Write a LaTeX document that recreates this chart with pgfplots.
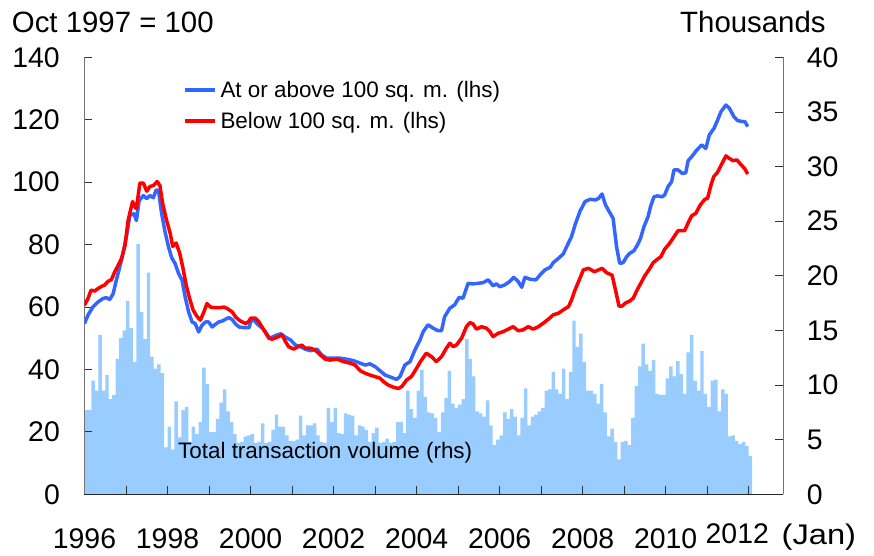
\documentclass[border=0pt]{standalone}
\usepackage{fontspec}
\setmainfont{Liberation Sans}
\usepackage{pgfplots}
\pgfplotsset{compat=1.18}
\definecolor{barblue}{RGB}{153,204,255}
\definecolor{lineblue}{RGB}{51,102,255}
\definecolor{linered}{RGB}{255,0,0}
\newcommand\bigf{\fontsize{29.5}{32}\selectfont}
\newcommand\xtickf{\fontsize{28.5}{30}\selectfont}
\newcommand\tickf{\fontsize{28.5}{30}\selectfont}
\newcommand\smallf{\fontsize{22.5}{25}\selectfont}
\pgfplotsset{
  base/.style={
    scale only axis, width=698.8bp, height=437bp,
    xmin=0, xmax=202, at={(0,0)}, anchor=south west,
    tick align=inside, major tick length=8bp,
    /pgf/number format/assume math mode=true,
    tick style={black!80, line width=0.8bp},
    axis line style={-, line width=1bp},
    x axis line style={black!85},
    y axis line style={black!55},
  }
}
\begin{document}
\begin{tikzpicture}[x=1bp,y=1bp]
\useasboundingbox (-84.5,-61.7) rectangle (789.5,494.3);
% ---------- bars (right axis, thousands) ----------
\begin{axis}[base, ymin=0, ymax=40, ytick={0,5,...,40},
  axis y line*=right, axis x line=none,
  yticklabel style={font=\tickf, inner sep=0pt, anchor=west, xshift=23.4bp}]
\addplot[ybar, bar width=1, bar shift=0pt, fill=barblue, draw=none] coordinates {
(0.5,7.7)(1.5,7.7)(2.5,10.4)(3.5,9.5)(4.5,14.6)(5.5,9.5)(6.5,10.9)(7.5,8.7)(8.5,9.1)(9.5,12.4)(10.5,14.3)(11.5,15.0)
(12.5,17.7)(13.5,15.2)(14.5,12.1)(15.5,22.9)(16.5,16.7)(17.5,14.2)(18.5,20.3)(19.5,12.6)(20.5,11.5)(21.5,11.9)(22.5,11.1)(23.5,4.3)
(24.5,6.2)(25.5,4.1)(26.5,8.5)(27.5,5.2)(28.5,7.7)(29.5,8.0)(30.5,4.8)(31.5,6.2)(32.5,5.5)(33.5,6.6)(34.5,11.6)(35.5,10.1)
(36.5,5.7)(37.5,5.7)(38.5,6.9)(39.5,8.4)(40.5,9.6)(41.5,7.6)(42.5,6.6)(43.5,5.5)(44.5,4.7)(45.5,4.8)(46.5,5.3)(47.5,5.4)
(48.5,5.5)(49.5,4.7)(50.5,4.8)(51.5,6.5)(52.5,4.7)(53.5,4.8)(54.5,5.9)(55.5,7.3)(56.5,6.2)(57.5,6.2)(58.5,5.4)(59.5,4.9)
(60.5,4.9)(61.5,5.0)(62.5,7.2)(63.5,5.4)(64.5,6.3)(65.5,6.3)(66.5,6.5)(67.5,5.4)(68.5,4.8)(69.5,4.7)(70.5,7.9)(71.5,6.6)
(72.5,7.9)(73.5,5.6)(74.5,5.5)(75.5,7.4)(76.5,7.3)(77.5,7.2)(78.5,5.4)(79.5,6.3)(80.5,6.2)(81.5,5.9)(82.5,4.8)(83.5,5.6)
(84.5,6.1)(85.5,4.7)(86.5,4.8)(87.5,5.1)(88.5,4.7)(89.5,4.8)(90.5,6.6)(91.5,6.6)(92.5,5.6)(93.5,9.5)(94.5,7.8)(95.5,7.0)
(96.5,9.5)(97.5,11.4)(98.5,8.9)(99.5,7.5)(100.5,7.4)(101.5,7.0)(102.5,5.7)(103.5,7.5)(104.5,8.8)(105.5,11.3)(106.5,8.3)(107.5,7.9)
(108.5,8.2)(109.5,8.7)(110.5,14.2)(111.5,12.4)(112.5,10.8)(113.5,7.6)(114.5,7.4)(115.5,7.1)(116.5,8.6)(117.5,6.3)(118.5,4.5)(119.5,5.0)
(120.5,5.4)(121.5,7.5)(122.5,6.9)(123.5,7.8)(124.5,7.1)(125.5,5.4)(126.5,7.0)(127.5,9.7)(128.5,6.3)(129.5,7.1)(130.5,7.3)(131.5,7.6)
(132.5,7.9)(133.5,9.5)(134.5,9.6)(135.5,11.2)(136.5,9.6)(137.5,9.2)(138.5,11.5)(139.5,8.7)(140.5,11.2)(141.5,15.9)(142.5,13.5)(143.5,14.7)
(144.5,12.1)(145.5,9.5)(146.5,9.5)(147.5,9.2)(148.5,8.3)(149.5,10.1)(150.5,7.5)(151.5,5.3)(152.5,6.0)(153.5,4.8)(154.5,3.2)(155.5,4.8)
(156.5,4.9)(157.5,4.5)(158.5,7.0)(159.5,9.9)(160.5,11.7)(161.5,13.8)(162.5,11.9)(163.5,11.3)(164.5,12.3)(165.5,9.2)(166.5,9.1)(167.5,9.1)
(168.5,10.6)(169.5,11.7)(170.5,10.8)(171.5,12.2)(172.5,11.0)(173.5,9.2)(174.5,13.0)(175.5,14.6)(176.5,10.4)(177.5,9.5)(178.5,13.1)(179.5,9.2)
(180.5,8.0)(181.5,10.4)(182.5,10.5)(183.5,7.6)(184.5,9.6)(185.5,9.2)(186.5,5.3)(187.5,5.4)(188.5,4.9)(189.5,4.6)(190.5,4.8)(191.5,4.4)
(192.5,3.5)
};
\end{axis}
% ---------- price indices (left axis) ----------
\begin{axis}[base, ymin=0, ymax=140, ytick={0,20,...,140},
  axis y line*=left, axis x line*=bottom,
  xtick={0,12,...,192},
  xticklabels={1996,{},1998,{},2000,{},2002,{},2004,{},2006,{},2008,{},2010,{},{}},
  yticklabel style={font=\tickf, inner sep=0pt, anchor=east, xshift=-24.5bp},
  xticklabel style={font=\xtickf, inner sep=0pt, anchor=north, yshift=-33.7bp},
  legend cell align=left,
  legend image code/.code={\draw[#1, line width=3.5bp] (0bp,0bp) -- (30bp,0bp);},
  legend style={at={(0.141,0.946)}, anchor=north west, draw=none, fill=none,
    inner sep=0pt, outer sep=0pt, font=\smallf, row sep=13.5bp,
    nodes={inner sep=0pt},
    /tikz/every odd column/.append style={column sep=4bp}},
  every axis plot/.append style={line width=3.5bp, line join=round, no markers}]
\addplot[lineblue] coordinates {
(0,54.7)(1,57.4)(2.4,60.0)(3.9,61.6)(5.3,62.7)(6.3,63.0)(7.3,62.4)(8.3,64.3)(9.2,68.6)(10.7,75.0)
(12.1,82.4)(13.1,89.3)(14.3,89.9)(15,87.7)(15.8,94.1)(17,95.7)(18,94.7)(18.9,95.7)(19.9,95.0)(20.7,97.5)
(21.4,97.3)(22.3,89.9)(23.3,84.0)(24.3,79.2)(25.2,75.8)(26.2,73.9)(27.2,70.7)(28.2,68.6)(29.1,63.2)(30.1,58.4)
(31.1,55.2)(32,54.7)(33,52.0)(34,54.2)(35,55.2)(35.9,55.2)(36.9,53.6)(37.9,54.5)(38.8,55.2)(39.8,55.5)
(40.8,56.1)(41.7,56.6)(42.7,56.0)(43.7,54.5)(44.7,53.6)(46.1,53.4)(47.6,53.4)
(48,55.3)(49,55.9)(49.9,54.6)(51.4,53.2)(52.3,52.1)(53.3,50.3)(54.2,50.3)(55.7,51.1)(56.8,51.4)(58.1,50.3)
(59.5,49.5)(61,47.8)(62.4,47.3)(63.8,46.5)(65.3,46.0)(67.2,46.5)(68.6,44.6)(70.1,43.6)(72,43.6)(73.9,43.6)
(75.8,43.3)(77.8,42.8)(79.7,42.0)(81.1,41.4)(82.5,41.8)(84,40.9)(85.4,39.6)(86.9,38.2)(88.8,37.4)(90.2,36.8)
(91.2,37.7)(92.6,41.4)(94.1,42.5)(95.5,46.2)(97,49.5)
(97.9,52.1)(99.3,54.3)(100.8,53.2)(102.2,52.4)(103.2,52.4)(104.1,56.9)(105.6,59.6)(107,60.7)(108.3,63.1)(109.4,62.8)
(110.9,67.6)(112.3,67.4)(113.8,67.6)(115.2,67.8)(116.7,68.7)(118.1,66.8)(119.1,67.4)(120.1,66.5)(121.5,67.1)(122.8,68.1)
(124.1,69.5)(125.4,68.1)(126.4,66.3)(127.3,69.5)(128.8,68.9)(130.5,68.7)(131.7,70.3)(133.1,71.9)(134.6,72.7)(135.5,74.2)
(137,75.6)(138.4,77.0)(139.4,79.4)(140.8,82.6)(141.8,86.3)(143.2,90.6)(144.7,93.8)
(146.2,94.5)(147.7,94.3)(148.6,94.8)(149.6,96.2)(150.6,92.7)(151.5,90.9)(152.8,88.4)(153.8,79.3)(154.7,74.0)(155.7,74.2)
(156.7,76.1)(157.6,77.2)(158.8,78.0)(159.8,79.8)(160.7,81.9)(161.7,85.7)(162.9,88.9)(163.6,92.1)(164.6,95.3)(165.6,95.6)
(167,95.3)(167.7,95.9)(168.7,98.6)(169.7,100.1)(170.4,103.9)(171.6,103.9)(172.8,102.8)(173.8,103.0)(174.5,106.9)(175.7,108.4)
(177,110.3)(178.4,111.9)(179.6,110.8)(180.6,115.1)(182,117.3)(183,119.9)(184,122.6)(185.4,124.7)(186.4,123.7)(187.7,121.0)
(188.8,119.7)(190.3,119.4)(190.9,119.4)(191.7,117.8)
};
\addlegendentry{At or above 100 sq. m. (lhs)}
\addplot[linered] coordinates {
(0,60.6)(1,62.7)(1.9,65.4)(2.9,65.1)(3.9,65.9)(4.9,66.6)(5.8,67.0)(6.8,68.2)(7.8,68.8)(8.7,71.2)
(9.7,73.3)(10.7,75.5)(11.7,79.7)(12.6,87.7)(13.9,93.8)(14.6,92.0)(15,91.5)(16,99.7)(17,99.7)(18,97.1)
(18.9,98.6)(19.9,98.9)(21,100.2)(21.8,98.9)(22.6,93.1)(23.6,88.3)(24.8,83.5)(25.5,79.4)(26.5,80.5)(27.5,77.3)
(28.4,72.8)(29.4,67.0)(30.4,62.7)(31.4,59.0)(32.5,57.0)(33.5,55.8)(34.5,58.4)(35.4,61.1)(36.4,60.0)(37.4,59.8)
(38.3,59.8)(39.3,59.8)(40.3,60.0)(41.3,59.5)(42.7,58.4)(43.7,56.8)(44.7,55.8)(45.6,55.2)(46.6,54.7)(47.6,55.5)
(48,56.4)(49.4,56.4)(50.4,55.3)(51.8,52.7)(53.3,50.0)(54.2,49.7)(55.7,50.3)(57.1,51.1)(58.1,48.9)(59,47.3)
(60.5,46.5)(61.4,47.1)(62.9,47.8)(63.8,46.8)(65.3,46.8)(66.7,46.2)(68.2,44.6)(69.6,43.3)(71,43.0)(73,43.3)
(74.9,42.5)(76.8,42.0)(78.2,41.4)(79.7,39.6)(81.1,38.8)(82.5,38.2)(84,37.7)(85.4,37.2)(86.4,36.1)(87.8,35.0)
(89.3,34.3)(90.7,33.9)(91.7,34.5)(93.1,36.6)(94.5,37.7)(96,40.4)(97.1,42.5)
(98.8,45.2)(100.3,44.1)(101.7,42.5)(103.2,44.1)(104.6,46.8)(105.6,48.4)(106.6,47.3)(107.5,47.8)(109,50.0)(110.4,53.7)
(111.4,55.0)(112.3,54.6)(113.3,52.9)(114.8,53.7)(116.2,53.2)(117.2,52.1)(118.1,50.5)(119.6,51.6)(121,52.1)(122.5,52.9)
(123.9,53.7)(125.4,52.4)(126.8,52.7)(128.3,53.7)(129.7,52.9)(131.2,53.7)(132.6,54.8)(134.1,56.1)(135.5,57.5)(137,58.0)
(138.4,59.1)(139.9,60.1)(140.8,62.3)(141.8,65.5)(142.8,68.1)(144.2,71.9)(145.7,72.4)
(147.4,71.3)(148.4,71.8)(149.6,72.4)(150.9,71.0)(152.5,70.2)(153.5,65.4)(154.5,60.3)(155.4,60.3)(156.4,61.3)(157.6,61.9)
(158.6,62.8)(159.8,65.6)(160.9,67.8)(161.9,69.9)(163.2,72.0)(164.4,74.2)(165.6,75.3)(166.6,76.1)(167.7,78.5)(169,80.2)
(170.4,82.5)(171.6,84.5)(173.5,84.5)(174.5,87.0)(175.5,89.2)(176.7,90.0)(178,92.7)(179.3,94.5)(180.1,94.8)(181.1,99.1)
(181.9,101.8)(182.9,103.0)(184.3,106.0)(185.4,108.4)(186.4,107.6)(187.4,106.9)(188.6,107.1)(189.6,105.8)(190.8,104.4)(191.7,102.6)
};
\addlegendentry{Below 100 sq. m. (lhs)}
\end{axis}
% ---------- titles and notes ----------
\node[anchor=base west, inner sep=0pt, font=\bigf] at (-72.8,462) {Oct 1997 = 100};
\node[anchor=base west, inner sep=0pt, font=\bigf] at (595.5,462) {Thousands};
\node[anchor=base west, inner sep=0pt, font=\smallf] at (93.5,36) {Total transaction volume (rhs)};
\node[anchor=north west, inner sep=0pt, font=\xtickf] at (621,-29) {2012};
\node[anchor=north west, inner sep=0pt, font=\xtickf, xscale=1.15] at (697,-29) {(Jan)};
\end{tikzpicture}
\end{document}
